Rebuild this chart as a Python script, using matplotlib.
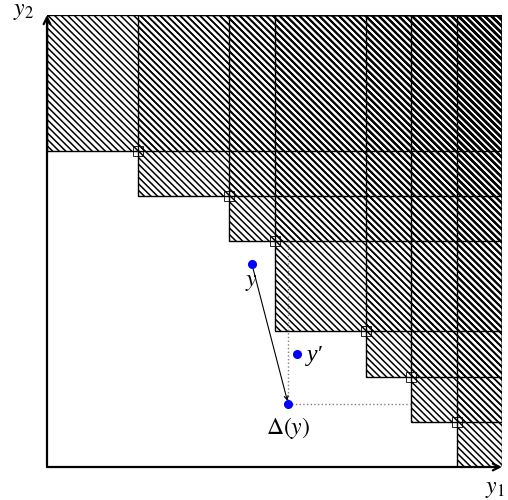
import matplotlib.pyplot as plt
import numpy as np
from matplotlib.collections import LineCollection
from matplotlib.patches import Rectangle

plt.rcParams['mathtext.fontset'] = 'stix'
plt.rcParams['font.family'] = ['Liberation Serif', 'DejaVu Serif']

# nondominated points (y1, y2)
front_y1 = [2, 4, 5, 7, 8, 9]
front_y2 = [7, 6, 5, 3, 2, 1]

# the three labelled points
y_pt = (4.5, 4.5)
y_prime = (5.5, 2.5)
delta_y = (5.3, 1.4)

lim = 10

fig = plt.figure(figsize=(5.08, 5.0), dpi=100)
ax = fig.add_axes([47 / 508, 33 / 500, 455 / 508, 452 / 500])
ax.set_xlim(0, lim)
ax.set_ylim(0, lim)
ax.axis('off')

# each box starts at the previous point's y1 and this point's y2
lefts = [0] + front_y1
bottoms = front_y2 + [0]

spacing = 0.145
cs = np.arange(-lim, 3 * lim, spacing)
for i, (x0, y0) in enumerate(zip(lefts, bottoms)):
    rect = Rectangle((x0, y0), lim - x0, lim - y0, facecolor='none',
                     edgecolor='black', lw=1.0, zorder=3)
    ax.add_patch(rect)
    # tiny shift per layer so overlaps look denser, like the original
    off = i * 0.006
    segs = [[(-1, c + off + 1), (lim + 1, c + off - lim - 1)] for c in cs]
    lc = LineCollection(segs, colors='black', linewidths=1.1, zorder=2)
    ax.add_collection(lc)
    lc.set_clip_path(rect)

ax.plot(front_y1, front_y2, 's', mfc='none', mec='black', ms=7, mew=0.6,
        zorder=5)

# dotted guides from delta(y)
ax.plot([delta_y[0], delta_y[0]], [delta_y[1], front_y2[2]], ls=':',
        color='gray', lw=1, zorder=4)
ax.plot([delta_y[0], front_y1[4]], [delta_y[1], delta_y[1]], ls=':',
        color='gray', lw=1, zorder=4)

# axes with arrow heads
for tip in [(0, lim), (lim, 0)]:
    ax.annotate('', xy=tip, xytext=(0, 0), annotation_clip=False,
                arrowprops=dict(arrowstyle='->', lw=1.6, shrinkA=0,
                                shrinkB=0, mutation_scale=12), zorder=6)

ax.annotate('', xy=delta_y, xytext=y_pt,
            arrowprops=dict(arrowstyle='->', lw=0.8, shrinkA=0, shrinkB=2,
                            mutation_scale=7), zorder=6)

pts = np.array([y_pt, y_prime, delta_y])
ax.plot(pts[:, 0], pts[:, 1], 'o', color='#0000ff', ms=5.5, zorder=7)

fs = 17
ax.text(4.48, 4.09, r'$y$', fontsize=fs, ha='center', va='center')
ax.text(5.71, 2.46, 'y\u2032', fontsize=fs, style='italic', ha='left',
        va='center')
ax.text(5.30, 0.86, r'$\Delta(y)$', fontsize=fs, ha='center', va='center')
ax.text(-0.51, 10.07, r'$y_2$', fontsize=fs, ha='center', va='center',
        clip_on=False)
ax.text(9.85, -0.5, r'$y_1$', fontsize=fs, ha='center', va='center',
        clip_on=False)

fig.savefig('out.png', dpi=100)
